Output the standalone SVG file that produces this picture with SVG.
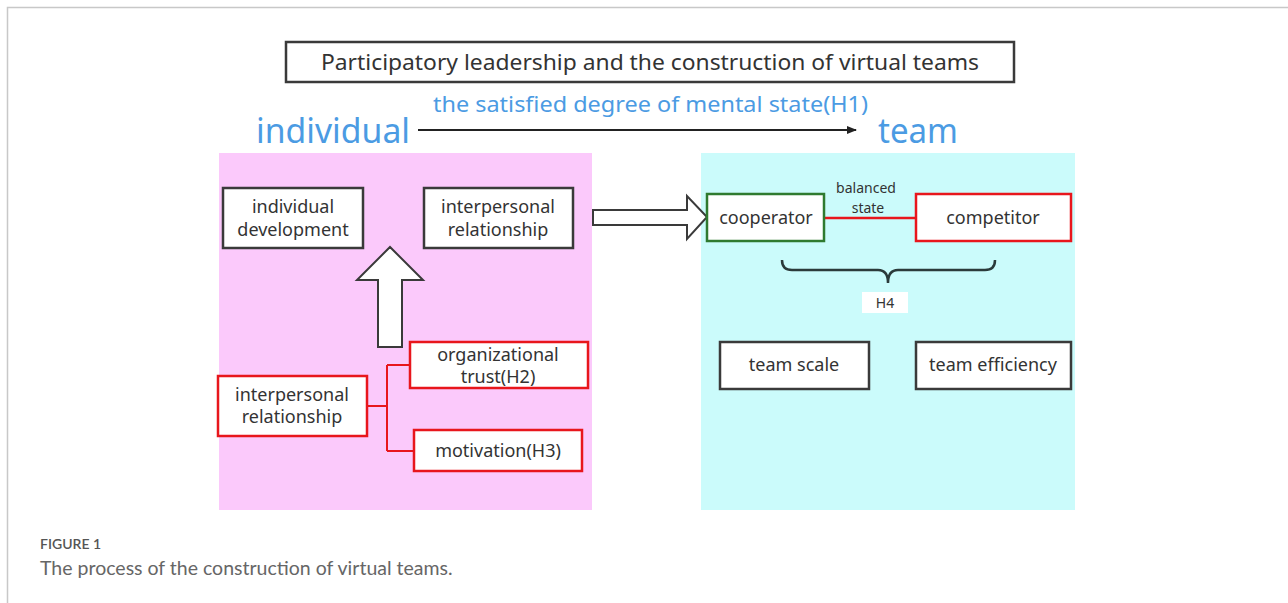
<svg xmlns="http://www.w3.org/2000/svg" width="1288" height="603" viewBox="0 0 1288 603">
<defs>
<style>
.t{font-family:"Noto Sans","Open Sans",sans-serif;fill:#333;font-size:18px;text-anchor:middle}
.s{font-family:"Noto Sans","Open Sans",sans-serif;fill:#333;font-size:14px;text-anchor:middle}
.bx{fill:#fff;stroke:#3a3a3a;stroke-width:2.5}
.rb{fill:#fff;stroke:#e8161c;stroke-width:2.5}
.gb{fill:#fff;stroke:#2f7a2f;stroke-width:2.5}
.blue{font-family:"Noto Sans","Open Sans",sans-serif;fill:#4b9be3}
</style>
<marker id="ah" viewBox="0 0 10 10" refX="9" refY="5" markerWidth="5" markerHeight="5" orient="auto"><path d="M0,1 L10,5 L0,9 z" fill="#222"/></marker>
</defs>
<rect x="0" y="0" width="1288" height="603" fill="#fff"/>
<path d="M7.5,603 V7.5 H1288" fill="none" stroke="#c8c8c8" stroke-width="1.5"/>
<rect x="219" y="153" width="373" height="357" fill="#fbc9fb"/>
<rect x="701" y="153" width="374" height="357" fill="#cbfbfb"/>

<g id="title">
<rect x="286" y="42" width="728" height="40" fill="#fff" stroke="#3a3a3a" stroke-width="2.5"/>
<text x="650" y="70" class="t" style="font-size:22px" textLength="658" lengthAdjust="spacingAndGlyphs">Participatory leadership  and the construction of virtual teams</text>
</g>
<g id="individual"><text x="256" y="143" class="blue" font-size="34" textLength="154" lengthAdjust="spacingAndGlyphs">individual</text></g>
<g id="team"><text x="878" y="143" class="blue" font-size="34" textLength="80" lengthAdjust="spacingAndGlyphs">team</text></g>
<g id="h1label"><text x="433" y="112" class="blue" font-size="21" textLength="435" lengthAdjust="spacingAndGlyphs">the  satisfied degree  of mental state(H1)</text></g>

<g id="connectors">
<line x1="418" y1="130" x2="856" y2="130" stroke="#222" stroke-width="2" marker-end="url(#ah)"/>
<path d="M378,347 V280 H357 L390,247 L423,280 H402 V347 Z" fill="#fff" stroke="#3a3a3a" stroke-width="2"/>
<path d="M593,210 H687 V196 L707,217 L687,239 V225 H593 Z" fill="#fff" stroke="#3a3a3a" stroke-width="2"/>
<path d="M367,406 H387 M387,365 V451 M387,365 H410 M387,451 H414" fill="none" stroke="#e8161c" stroke-width="2"/>
<line x1="824" y1="218" x2="916" y2="218" stroke="#e8161c" stroke-width="2.5"/>
<path d="M782,260 Q782,270 792,270 H878 Q888,270 888,283 Q888,270 898,270 H985 Q995,270 995,260" fill="none" stroke="#2b3a3a" stroke-width="2.5"/>
</g>

<g id="n-inddev"><rect x="223" y="188" width="140" height="60" class="bx"/>
<text class="t" x="293" y="213">individual</text><text class="t" x="293" y="236">development</text></g>
<g id="n-interrel-top"><rect x="424" y="188" width="149" height="60" class="bx"/>
<text class="t" x="498" y="213">interpersonal</text><text class="t" x="498" y="236">relationship</text></g>
<g id="n-orgtrust"><rect x="410" y="342" width="178" height="46" class="rb"/>
<text class="t" x="498" y="361">organizational</text><text class="t" x="498" y="383">trust(H2)</text></g>
<g id="n-interrel"><rect x="218" y="376" width="149" height="60" class="rb"/>
<text class="t" x="292" y="401">interpersonal</text><text class="t" x="292" y="423">relationship</text></g>
<g id="n-motiv"><rect x="414" y="430" width="168" height="41" class="rb"/>
<text class="t" x="498" y="457">motivation(H3)</text></g>

<g id="n-coop"><rect x="707" y="194" width="117" height="47" class="gb"/>
<text class="t" x="766" y="224">cooperator</text></g>
<g id="n-comp"><rect x="916" y="194" width="155" height="47" class="rb"/>
<text class="t" x="993" y="224">competitor</text></g>
<g id="balanced"><text class="s" x="866" y="193">balanced</text><text class="s" x="868" y="213">state</text></g>
<g id="h4"><rect x="862" y="292" width="46" height="21" fill="#fff"/><text class="s" x="885" y="308">H4</text></g>
<g id="n-scale"><rect x="720" y="342" width="149" height="47" class="bx"/>
<text class="t" x="794" y="371">team scale</text></g>
<g id="n-eff"><rect x="916" y="342" width="155" height="47" class="bx"/>
<text class="t" x="993" y="371">team efficiency</text></g>

<g id="caption">
<text x="40" y="549" font-family="Lato,'Open Sans',sans-serif" font-size="14" font-weight="600" fill="#555">FIGURE 1</text>
<text x="40" y="575" font-family="Lato,'Open Sans',sans-serif" font-size="19.5" fill="#666">The process of the construction of virtual teams.</text>
</g>
</svg>
